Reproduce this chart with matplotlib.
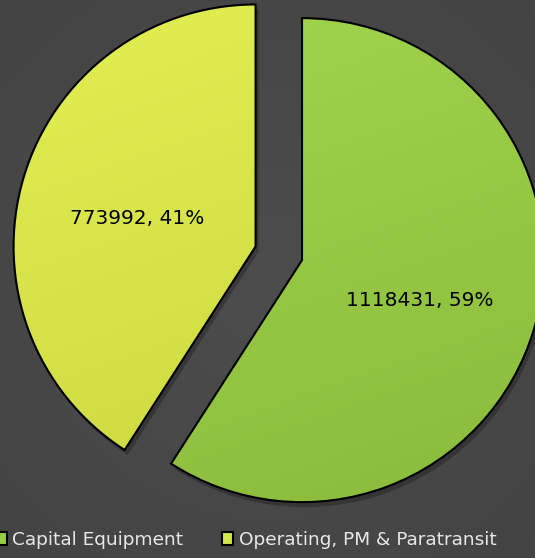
import numpy as np
import matplotlib
matplotlib.use("Agg")
import matplotlib.pyplot as plt
from matplotlib.colors import LinearSegmentedColormap
from matplotlib.patches import Patch

categories = ["Capital Equipment", "Operating, PM & Paratransit"]
values = [1118431, 773992]
face_colors = ["#98CC44", "#D6E548"]
light_colors = ["#A4D74E", "#E3F053"]
dark_colors = ["#88B83A", "#C6D23B"]

W, H = 535, 558
fig = plt.figure(figsize=(W / 100, H / 100), dpi=100)
fig.patch.set_facecolor("#464646")
ax = fig.add_axes([0, 0, 1, 1])

yy, xx = np.mgrid[0:H, 0:W]
bg = 0.30 - 0.035 * np.hypot(xx - W / 2, yy - H / 2) / np.hypot(W / 2, H / 2)
ax.imshow(np.dstack([bg, bg, bg]), extent=[0, W, 0, H], origin="lower", zorder=0)

total = sum(values)
center = (278.8, H - 253.3)
radius = 242
expl = [24.2, 24.2]

sw, _ = ax.pie(values, startangle=90, counterclock=False, center=(center[0] + 3, center[1] - 5),
               radius=radius, explode=expl, colors=["black", "black"],
               wedgeprops=dict(linewidth=0, alpha=0.25), frame=True)
for w in sw:
    w.set_zorder(1)

wedges, texts = ax.pie(values, startangle=90, counterclock=False, center=center,
                       radius=radius, explode=expl, colors=face_colors,
                       wedgeprops=dict(edgecolor="black", linewidth=1.5), frame=True)
ax.set_xlim(0, W)
ax.set_ylim(0, H)
ax.set_aspect("equal")
ax.axis("off")

for w, lc, dc in zip(wedges, light_colors, dark_colors):
    w.set_zorder(3)
    cmap = LinearSegmentedColormap.from_list("g", [dc, lc])
    grad = (yy / H) * 0.75 + (1 - xx / W) * 0.25
    im = ax.imshow(grad, extent=[0, W, 0, H], origin="lower", cmap=cmap, zorder=2.5)
    im.set_clip_path(w)
    w.set_facecolor("none")

labels = [f"{v}, {round(100 * v / total)}%" for v in values]
label_pos = [(420, H - 300), (137, H - 218)]
for (x, y), t in zip(label_pos, labels):
    ax.text(x, y, t, ha="center", va="center", fontsize=14.5, family="DejaVu Sans",
            color="black", zorder=5)

handles = [Patch(facecolor=c, edgecolor="black", linewidth=1.5) for c in face_colors]
leg = fig.legend(handles, categories, loc="center", bbox_to_anchor=(246 / W, 1 - 540 / H), ncol=2,
                 frameon=False, prop=dict(family="DejaVu Sans", size=13.3), labelcolor="#E8E8E8",
                 handlelength=0.6, handleheight=0.75, handletextpad=0.3, columnspacing=2.1,
                 borderaxespad=0, borderpad=0)

fig.savefig("out.png", dpi=100, facecolor=fig.get_facecolor())
